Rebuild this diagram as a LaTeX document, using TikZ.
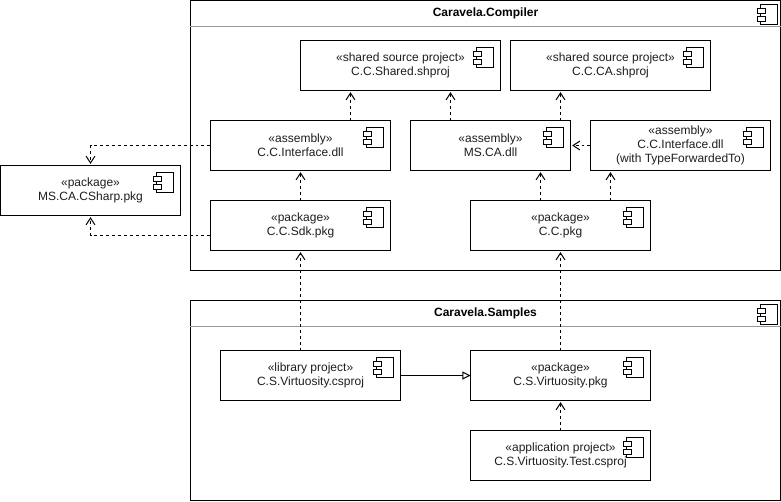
\documentclass[tikz,border=0pt]{standalone}
\usepackage{fontspec}
\setmainfont{Liberation Sans}
\usetikzlibrary{arrows.meta, calc}
\definecolor{headerLine}{RGB}{153,153,153}
\definecolor{labelColor}{RGB}{30,30,30}

\begin{document}
\begin{tikzpicture}[
    x=0.025cm, y=-0.025cm, shift={(0.5,0.5)},
    line width=0.025cm,
    component/.style={rectangle, draw, fill=white, minimum width=4.5cm, minimum height=1.25cm, outer sep=0pt, inner sep=0pt, align=center, text=labelColor, font=\fontsize{8.54}{9.96}\selectfont},
    shared/.style={component, minimum width=5cm},
    narrow/.style={component, minimum width=4cm},
    group/.style={rectangle, draw, fill=white, minimum width=14.75cm, outer sep=0pt},
    header/.style={rectangle, minimum width=14.75cm, minimum height=0.65cm, outer sep=0pt, inner sep=0pt, font=\fontsize{8.54}{9.96}\selectfont\bfseries},
    headerrule/.style={draw=headerLine},
    dep/.style={dash pattern=on 2.13pt off 2.13pt, -{Straight Barb[length=0.17cm, width=0.22cm]}, shorten >=0.04cm},
    inherit/.style={-{Triangle[open, fill=white, length=0.2cm, width=0.2cm]}},
    pics/compicon/.style={code={
        \draw (-17,0) rectangle (0,20);
        \draw[fill=white] (-20,4) rectangle (-12,9);
        \draw[fill=white] (-20,12) rectangle (-12,17);
    }}
]
    \useasboundingbox (-0.5,-0.5) rectangle (780.5,500.5);

    % Compiler group
    \node[group, minimum height=6.75cm] (compiler) at (485, 135) {};
    \node[header] (compilerhead) at (485, 13) {Caravela.Compiler};
    \draw[headerrule] (compilerhead.south west) -- (compilerhead.south east);
    \pic at ($(compiler.north east)+(-3,4)$) {compicon};

    % Samples group
    \node[group, minimum height=5cm] (samples) at (485, 400) {};
    \node[header] (sampleshead) at (485, 313) {Caravela.Samples};
    \draw[headerrule] (sampleshead.south west) -- (sampleshead.south east);
    \pic at ($(samples.north east)+(-3,4)$) {compicon};

    % Shared projects
    \node[shared] (sharedproj) at (400, 65) {«shared source project»\\C.C.Shared.shproj};
    \node[shared] (caproj) at (610, 65) {«shared source project»\\C.C.CA.shproj};

    % Assemblies
    \node[component] (iface) at (300, 145) {«assembly»\\C.C.Interface.dll};
    \node[narrow] (cadll) at (490, 145) {«assembly»\\MS.CA.dll};
    \node[component] (forward) at (680, 145) {«assembly»\\C.C.Interface.dll\\(with TypeForwardedTo)};

    % Packages
    \node[component] (csharp) at (90, 190) {«package»\\MS.CA.CSharp.pkg};
    \node[component] (sdk) at (300, 225) {«package»\\C.C.Sdk.pkg};
    \node[component] (ccpkg) at (560, 225) {«package»\\C.C.pkg};

    % Samples
    \node[component] (library) at (310, 375) {«library project»\\C.S.Virtuosity.csproj};
    \node[component] (virtpkg) at (560, 375) {«package»\\C.S.Virtuosity.pkg};
    \node[component] (testapp) at (560, 455) {«application project»\\C.S.Virtuosity.Test.csproj};

    % Component icons
    \foreach \n in {sharedproj, caproj, iface, cadll, forward, csharp, sdk, ccpkg, library, virtpkg, testapp}
        \pic at ($(\n.north east)+(-7,7)$) {compicon};

    % Arrows - Assemblies to shared projects
    \draw[dep] ($(iface.north)+(50,0)$) -- ($(sharedproj.south)+(-50,0)$);
    \draw[dep] ($(cadll.north)+(-40,0)$) -- ($(sharedproj.south)+(50,0)$);
    \draw[dep] ($(cadll.north)+(70,0)$) -- ($(caproj.south)+(-50,0)$);
    \draw[dep] (forward.west) -- (cadll.east);

    % Arrows - Packages to assemblies
    \draw[dep] (sdk.north) -- (iface.south);
    \draw[dep] ($(ccpkg.north)+(-20,0)$) -- ($(cadll.south)+(50,0)$);
    \draw[dep] ($(ccpkg.north)+(50,0)$) -- ($(forward.south)+(-70,0)$);

    % Arrows - To the CSharp package
    \draw[dep] (iface.west) -| (csharp.north);
    \draw[dep] ($(sdk.west)+(0,10)$) -| (csharp.south);

    % Arrows - Samples
    \draw[dep] ($(library.north)+(-10,0)$) -- (sdk.south);
    \draw[dep] (virtpkg.north) -- (ccpkg.south);
    \draw[dep] (testapp.north) -- (virtpkg.south);
    \draw[inherit] (library.east) -- (virtpkg.west);
\end{tikzpicture}
\end{document}
